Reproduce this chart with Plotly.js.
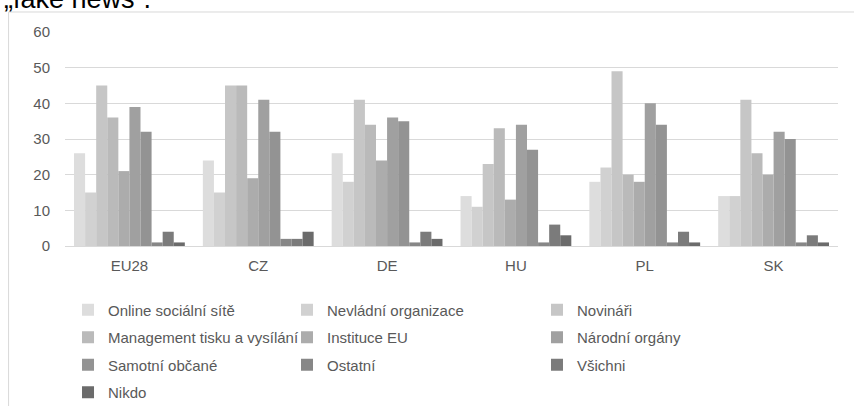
<!DOCTYPE html>
<html>
<head>
<meta charset="utf-8">
<script src="https://cdn.plot.ly/plotly-3.0.1.min.js"></script>
<style>html,body{margin:0;padding:0;background:#fff;}#chart{width:854px;height:406px;}</style>
</head>
<body>
<div id="chart"></div>
<script>
var categories = ["EU28", "CZ", "DE", "HU", "PL", "SK"];
var seriesNames = ["Online sociální sítě", "Nevládní organizace", "Novináři",
  "Management tisku a vysílání", "Instituce EU", "Národní orgány",
  "Samotní občané", "Ostatní", "Všichni", "Nikdo"];
var onlineSocialni = [26, 24, 26, 14, 18, 14];
var nevladniOrganizace = [15, 15, 18, 11, 22, 14];
var novinari = [45, 45, 41, 23, 49, 41];
var managementTisku = [36, 45, 34, 33, 20, 26];
var instituceEU = [21, 19, 24, 13, 18, 20];
var narodniOrgany = [39, 41, 36, 34, 40, 32];
var samotniObcane = [32, 32, 35, 27, 34, 30];
var ostatni = [1, 2, 1, 1, 1, 1];
var vsichni = [4, 2, 4, 6, 4, 3];
var nikdo = [1, 4, 2, 3, 1, 1];
var yTicks = [0, 10, 20, 30, 40, 50, 60];
var titleText = "„fake news“.";

var seriesValues = [onlineSocialni, nevladniOrganizace, novinari, managementTisku,
  instituceEU, narodniOrgany, samotniObcane, ostatni, vsichni, nikdo];
var colors = ["#dddddd", "#d1d1d1", "#c6c6c6", "#bababa", "#acacac",
  "#a0a0a0", "#939393", "#878787", "#7b7b7b", "#6b6b6b"];
var legendIds = ["legend", "legend2", "legend3"];

var FONT = "Liberation Sans, Arial, sans-serif";
var GRAY = "#595959";

var traces = seriesValues.map(function (vals, i) {
  return {
    type: "bar",
    name: seriesNames[i],
    x: categories,
    y: vals,
    marker: {color: colors[i], line: {width: 0}},
    legend: legendIds[i % 3],
    legendgroup: "g" + i,
    hoverinfo: "x+y+name"
  };
});

function legendCfg(x) {
  return {
    orientation: "v", x: x, xanchor: "left", y: -0.222, yanchor: "top",
    font: {family: FONT, size: 15, color: GRAY},
    bgcolor: "rgba(0,0,0,0)", tracegroupgap: 5, itemclick: false
  };
}

var layout = {
  width: 854, height: 406,
  margin: {l: 65, r: 16, t: 32, b: 160, autoexpand: false},
  paper_bgcolor: "#ffffff", plot_bgcolor: "#ffffff",
  barmode: "group", bargap: 0.14, bargroupgap: 0,
  showlegend: true,
  legend: legendCfg(0.0039),
  legend2: legendCfg(0.2872),
  legend3: legendCfg(0.6106),
  xaxis: {
    type: "category", showgrid: false, showline: true, linecolor: "#d9d9d9", linewidth: 1,
    ticks: "", ticklabelstandoff: 6,
    tickfont: {family: FONT, size: 15, color: GRAY}, zeroline: false
  },
  yaxis: {
    range: [0, 60], tickvals: yTicks, showgrid: true, gridcolor: "#d9d9d9", gridwidth: 1,
    showline: false, zeroline: false, ticks: "", ticklabelstandoff: 14,
    tickfont: {family: FONT, size: 15, color: GRAY}
  },
  annotations: [{
    text: titleText, xref: "paper", yref: "paper", x: -0.0815, y: 1.077,
    xanchor: "left", yanchor: "bottom", showarrow: false,
    font: {family: FONT, size: 27, color: "#000000"}
  }],
  shapes: [{
    type: "rect", xref: "paper", yref: "paper",
    x0: -0.0730, x1: 1.1, y0: -0.9, y1: 1.0935,
    line: {color: "#d9d9d9", width: 1}, fillcolor: "rgba(0,0,0,0)", layer: "below"
  }]
};

Plotly.newPlot("chart", traces, layout, {displayModeBar: false, staticPlot: true});
</script>
</body>
</html>
